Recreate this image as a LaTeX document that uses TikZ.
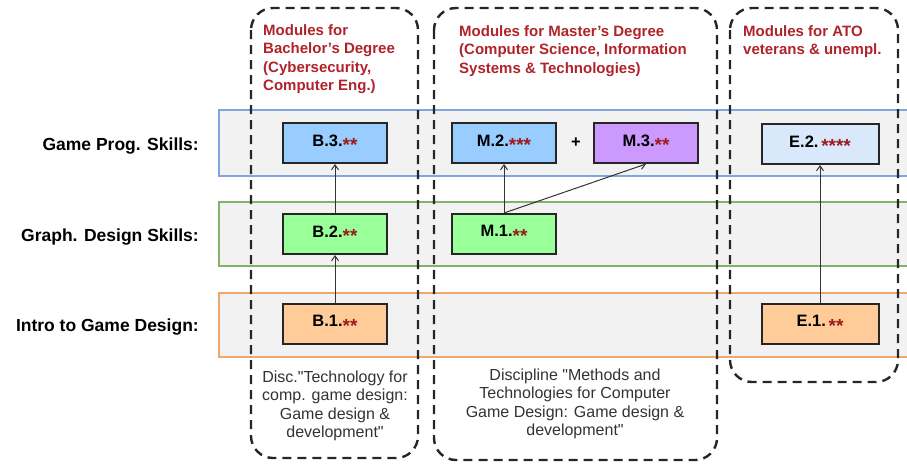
\documentclass[tikz,border=0pt]{standalone}
\usepackage{fontspec}
\setmainfont{Liberation Sans}
\usetikzlibrary{arrows.meta}
\definecolor{hdrred}{HTML}{B0232A}
\definecolor{starred}{HTML}{9C1B1B}
\definecolor{bandgray}{HTML}{F2F2F2}
\definecolor{bandblue}{HTML}{7EA6E0}
\definecolor{bandgreen}{HTML}{82B366}
\definecolor{bandorange}{HTML}{F0A868}
\definecolor{progblue}{HTML}{99CCFF}
\definecolor{designgreen}{HTML}{99FF99}
\definecolor{introorange}{HTML}{FFCC99}
\definecolor{progviolet}{HTML}{CC99FF}
\definecolor{paleblue}{HTML}{DAE8FC}
\newcommand{\grade}[1]{\textcolor{starred}{\raisebox{-5.5pt}{\fontsize{19}{19}\selectfont #1}}}

\begin{document}
\begin{tikzpicture}[x=1pt,y=-1pt,
    module/.style={draw=black!85,line width=2pt,minimum width=104pt,minimum height=40pt,inner sep=0pt,font=\fontsize{16.5}{18}\selectfont\bfseries},
    band/.style={fill=bandgray,line width=1.4pt},
    group/.style={draw=black!85,line width=2.4pt,dash pattern=on 9pt off 6pt,rounded corners=22pt},
    header/.style={anchor=north west,align=left,inner sep=0pt,text=hdrred,font=\fontsize{15}{18.5}\selectfont\bfseries},
    skill/.style={anchor=base east,inner sep=0pt,font=\fontsize{17.5}{20}\selectfont\bfseries},
    discipline/.style={align=center,inner sep=0pt,text=black!80,font=\fontsize{16}{18.5}\selectfont},
    link/.style={-{Straight Barb[length=5pt,width=7pt]},line width=1pt,draw=black!80}]
    \useasboundingbox (0,0) rectangle (907,466);
    \clip (0,0) rectangle (907,466);
    % skill bands
    \draw [band,draw=bandblue] (219,110) rectangle (920,176);
    \draw [band,draw=bandgreen] (219,202) rectangle (920,266);
    \draw [band,draw=bandorange] (219,293) rectangle (920,357);
    % groups of modules
    \draw [group] (251,8) rectangle (418,458);
    \draw [group] (434,8) rectangle (717,460);
    \draw [group] (730,8) rectangle (898,382);
    \node [header] (bachelor) at (263,24) {Modules for\\Bachelor's Degree\\(Cybersecurity,\\Computer Eng.)};
    \node [header] (master) at (459,25) {Modules for Master's Degree\\(Computer Science, Information\\Systems \& Technologies)};
    \node [header] (ato) at (743,25) {Modules for ATO\\veterans \& unempl.};
    \node [skill] (prog) at (199,150) {Game Prog. Skills:};
    \node [skill] (graph) at (199,241) {Graph. Design Skills:};
    \node [skill] (intro) at (199,331) {Intro to Game Design:};
    % modules
    \node [module,fill=progblue] (b3) at (335,143) {B.3.\grade{**}};
    \node [module,fill=designgreen] (b2) at (335,234) {B.2.\grade{**}};
    \node [module,fill=introorange] (b1) at (335,324) {B.1.\grade{**}};
    \node [module,fill=progblue] (m2) at (504,143) {M.2.\grade{***}};
    \node [font=\fontsize{16.5}{18}\selectfont\bfseries] (plus) at (576,143) {+};
    \node [module,fill=progviolet] (m3) at (646,143) {M.3.\grade{**}};
    \node [module,fill=designgreen] (m1) at (504,234) {M.1.\grade{**}};
    \node [module,fill=paleblue,minimum width=117pt] (e2) at (820,144) {E.2.\,\grade{****}};
    \node [module,fill=introorange,minimum width=117pt] (e1) at (820,324) {E.1.\,\grade{**}};
    \draw [link] (b1) -- (b2);
    \draw [link] (b2) -- (b3);
    \draw [link] (m1) -- (m2);
    \draw [link] (m1.north) -- (m3.south);
    \draw [link] (e1) -- (e2);
    \node [discipline] (bdisc) at (335,406) {Disc.\textquotedbl Technology for\\comp. game design:\\Game design \&\\development\textquotedbl};
    \node [discipline] (mdisc) at (575,404) {Discipline \textquotedbl Methods and\\Technologies for Computer\\Game Design: Game design \&\\development\textquotedbl};
\end{tikzpicture}
\end{document}
